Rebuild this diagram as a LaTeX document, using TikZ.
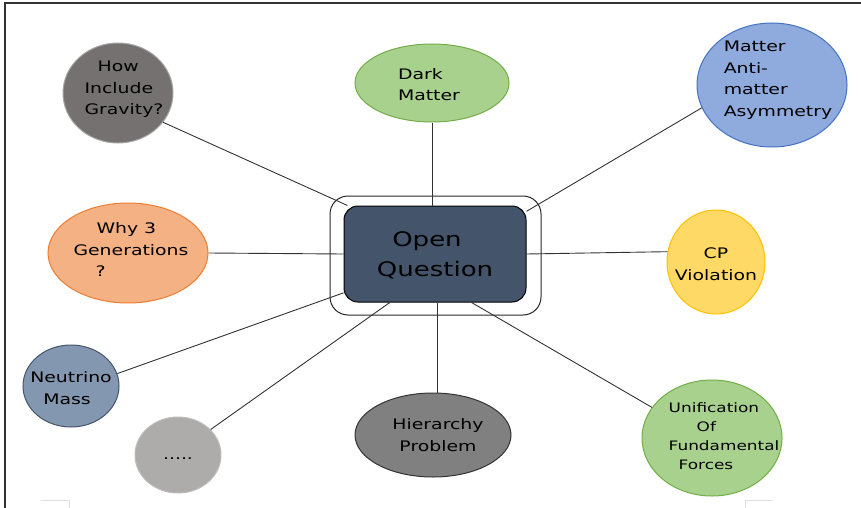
\documentclass[tikz,border=0pt]{standalone}
\usepackage{fontspec}
\setmainfont{DejaVu Sans}
\newfontfamily\hand[FakeStretch=1.3]{DejaVu Sans}
\usetikzlibrary{shapes.geometric}
\definecolor{coreblue}{HTML}{44546A}
\definecolor{gravfill}{HTML}{767171}
\definecolor{gravline}{HTML}{A6A6A6}
\definecolor{greenfill}{HTML}{A9D18E}
\definecolor{greenline}{HTML}{70AD47}
\definecolor{bluefill}{HTML}{8FAADC}
\definecolor{blueline}{HTML}{4472C4}
\definecolor{orangefill}{HTML}{F4B183}
\definecolor{orangeline}{HTML}{ED7D31}
\definecolor{yellowfill}{HTML}{FFD966}
\definecolor{yellowline}{HTML}{FFC000}
\definecolor{neufill}{HTML}{8497B0}
\definecolor{dotsfill}{HTML}{AEABAB}
\definecolor{hierfill}{HTML}{808080}
% text block of fixed zero size: #1 alignment, #2 twice the x shift, #3 raise, #4 lines
\newcommand\btext[4]{\smash{\makebox[0pt]{\hspace*{#2}\raisebox{\dimexpr#3-5.5pt\relax}{\begin{tabular}{@{}#1@{}}#4\end{tabular}}}}}
\tikzset{
  bubble/.style={ellipse, inner sep=0pt, font=\hand\fontsize{14.5}{21.5}\selectfont, line width=1pt},
  link/.style={draw=black!80, line width=0.9pt},
  markline/.style={draw=black!12, line width=1pt}
}
\begin{document}
\begin{tikzpicture}[x=1pt,y=-1pt]
\useasboundingbox (0,0) rectangle (861,508);
% frame
\draw[black!80, line width=1.5pt] (5,508) -- (5,3) -- (861,3);
\draw[markline] (41,500) -- (69,500) -- (69,508);
\draw[markline] (773,500) -- (745,500) -- (745,508);
% centre
\node[draw=black!85, line width=1pt, rounded corners=18pt, minimum width=211pt, minimum height=119pt, inner sep=0pt] (frame) at (435.5,255.5) {};
\node[draw=black, fill=coreblue, line width=1pt, rounded corners=14pt, minimum width=182pt, minimum height=96pt, inner sep=0pt, font=\hand\fontsize{20}{30}\selectfont] (core) at (435,254) {\btext{c}{0pt}{-1pt}{\hspace*{-16pt}Open\\Question}};
% bubbles
\node[bubble, fill=gravfill, draw=gravline, minimum width=110pt, minimum height=100pt] (grav) at (118,93) {\btext{l}{12pt}{6pt}{\hspace*{13pt}How\\Include\\Gravity?}};
\node[bubble, fill=greenfill, draw=greenline, minimum width=154pt, minimum height=78pt] (dark) at (432,83) {\btext{l}{-6pt}{-1pt}{Dark\\Matter}};
\node[bubble, fill=bluefill, draw=blueline, minimum width=150pt, minimum height=124pt] (mat) at (772,85) {\btext{l}{12pt}{7pt}{Matter\\Anti-\\matter\\Asymmetry}};
\node[bubble, fill=orangefill, draw=orangeline, minimum width=160pt, minimum height=100pt] (why) at (128,253) {\btext{l}{6pt}{4pt}{\hspace*{23pt}Why 3\\Generations\\\hspace*{22pt}?}};
\node[bubble, fill=yellowfill, draw=yellowline, minimum width=98pt, minimum height=104pt] (cp) at (716,262) {\btext{c}{0pt}{-1.5pt}{CP\\Violation}};
\node[bubble, fill=neufill, draw=coreblue, minimum width=96pt, minimum height=82pt] (neu) at (71,386) {\btext{l}{0pt}{-1.5pt}{Neutrino\\\hspace*{13pt}Mass}};
\node[bubble, fill=dotsfill, draw=dotsfill!80, minimum width=86pt, minimum height=76pt] (dots) at (178,455) {\btext{c}{0pt}{2pt}{.....}};
\node[bubble, fill=hierfill, draw=black!80, minimum width=156pt, minimum height=84pt] (hier) at (433,435) {\btext{c}{10pt}{0.5pt}{Hierarchy\\Problem}};
\node[bubble, fill=greenfill, draw=greenline, minimum width=140pt, minimum height=116pt, font=\hand\fontsize{13}{19}\selectfont] (uni) at (712,438) {\btext{l}{24pt}{3pt}{Unification\\\hspace*{28pt}Of\\Fundamental\\\hspace*{10pt}Forces}};
% links
\draw[link] (grav.-33) -- (core.151);
\draw[link] (dark.south) -- (dark.south |- core.north);
\draw[link] (mat.198) -- (core.25.5);
\draw[link] (why.east) -- (core.west);
\draw[link] (core.east) -- (cp.168);
\draw[link] (neu.15) -- (core.203);
\draw[link] (dots.38) -- (core.227);
\draw[link] (core.south -| 437,0) -- (hier.north -| 437,0);
\draw[link] (uni.153) -- (core.-53);
\end{tikzpicture}
\end{document}
